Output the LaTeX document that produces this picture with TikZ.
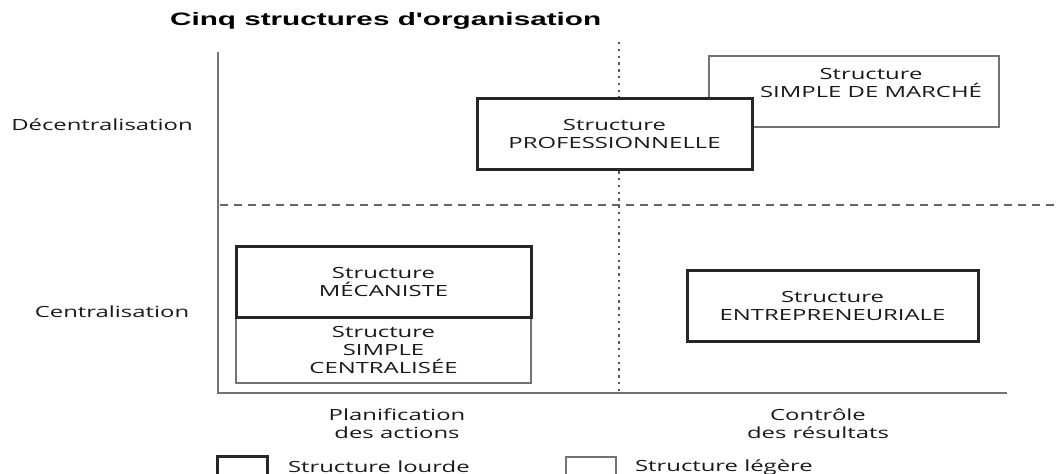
\documentclass[tikz,border=0pt]{standalone}
\usepackage{fontspec}
\setmainfont{Open Sans}[FakeStretch=1.55]
\newfontfamily\titlefont{Liberation Sans}[FakeStretch=1.65]

\tikzset{
    lourde/.style={draw=black!85, line width=1.5pt, fill=white, inner sep=0pt},
    legere/.style={draw=black!55, line width=0.75pt, fill=white, inner sep=0pt},
    txt/.style={align=center, text=black!90}
}

\begin{document}
\begin{tikzpicture}[x=0.5pt, y=-0.5pt, font=\fontsize{7.7}{9}\selectfont]

    % --- Frame (pixel units, y downwards) ---
    \useasboundingbox (0,0) rectangle (1059,474);
    \clip (0,0) rectangle (1059,474);

    % --- Title ---
    \node[anchor=west, font=\titlefont\bfseries\fontsize{9}{11}\selectfont] (titre) at (163,21) {Cinq structures d'organisation};

    % --- Axes ---
    \coordinate (O) at (218,393);
    \coordinate (Ytop) at (218,52);
    \coordinate (Xend) at (1007,393);
    \draw[black!55, line width=1.2pt] (Ytop) -- (O) -- (Xend);

    % Dividing lines
    \coordinate (Dl) at (220,205);
    \coordinate (Dr) at (1059,205);
    \draw[black!60, line width=0.8pt, dash pattern=on 4pt off 3pt] (Dl) -- (Dr);
    \coordinate (Vt) at (619,42);
    \coordinate (Vb) at (619,392);
    \draw[black!65, line width=1.3pt, dash pattern=on 1.2pt off 2.2pt] (Vt) -- (Vb);

    % --- Axis labels ---
    \node[txt] (dec) at (102,125) {Décentralisation};
    \node[txt] (cen) at (112,312) {Centralisation};
    \node[txt] (plan) at (397,424) {Planification\\des actions};
    \node[txt] (ctrl) at (818,424) {Contrôle\\des résultats};

    % --- Upper half ---
    % light box partly hidden by the heavy one
    \node[legere, minimum width=145pt, minimum height=35.5pt] (marche) at (854,91.5) {};
    \node[txt] (marchelbl) at (871,83) {Structure\\SIMPLE DE MARCHÉ};
    \node[lourde, txt, minimum width=137.5pt, minimum height=35.5pt] (prof) at (614.5,134.5) {Structure\\PROFESSIONNELLE};

    % --- Lower half ---
    \node[legere, txt, minimum width=147.5pt, minimum height=32.5pt] (simplec) at (383.5,350.5) {Structure\\SIMPLE\\CENTRALISÉE};
    \node[lourde, txt, minimum width=147.5pt, minimum height=35.5pt] (meca) at (383.5,282.5) {Structure\\MÉCANISTE};
    \node[lourde, txt, minimum width=145.5pt, minimum height=35.5pt] (entre) at (832.5,306.5) {Structure\\ENTREPRENEURIALE};

    % --- Legend (cut by the bottom edge) ---
    \node[lourde, minimum width=25pt, minimum height=16.5pt] (keylourde) at (242,473.5) {};
    \node[txt, anchor=west] (lourdelbl) at (281,467) {Structure lourde};
    \node[legere, minimum width=25pt, minimum height=16.5pt] (keylegere) at (591,473.5) {};
    \node[txt, anchor=west] (legerelbl) at (628,467) {Structure légère};

\end{tikzpicture}
\end{document}
